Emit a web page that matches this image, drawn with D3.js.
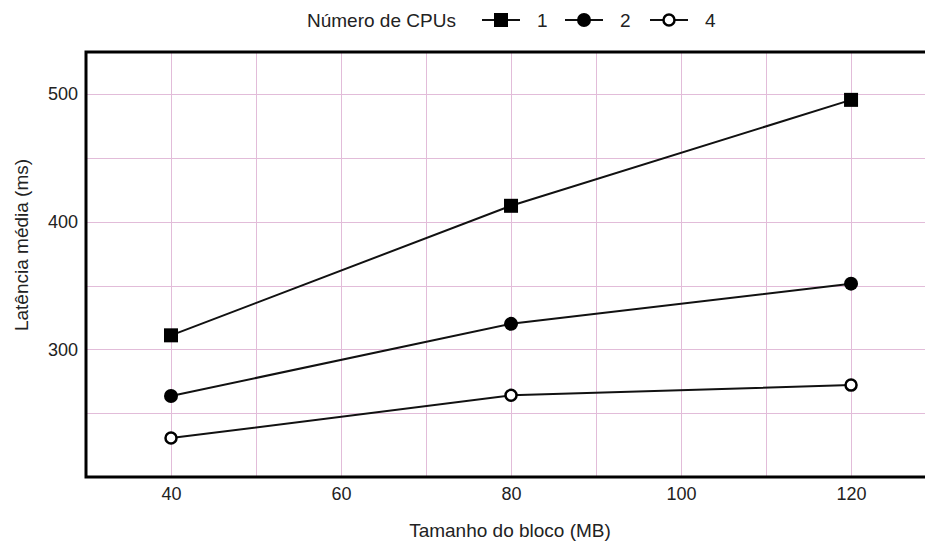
<!DOCTYPE html>
<html>
<head>
<meta charset="utf-8">
<script src="https://cdn.jsdelivr.net/npm/d3@7"></script>
<style>
  body { margin: 0; background: #fff; }
  svg { font-family: "Liberation Sans", Arial, sans-serif; }
</style>
</head>
<body>
<svg id="chart" width="925" height="542"></svg>
<script>
const blockSizes = [40, 80, 120];
const cpus1 = [311, 412.5, 495.5];
const cpus2 = [263.5, 320, 351.5];
const cpus4 = [230.5, 264, 272];
const seriesNames = ["1", "2", "4"];
const xTicks = [40, 60, 80, 100, 120];
const yTicks = [300, 400, 500];

const margin = {top: 52, right: 0, bottom: 65, left: 86};
const width = 925 - margin.left - margin.right;
const height = 542 - margin.top - margin.bottom;
const gridColor = "#e2bcd9";

const svg = d3.select("#chart");
const g = svg.append("g").attr("transform", `translate(${margin.left},${margin.top})`);

const x = d3.scaleLinear().domain([30, 128.7]).range([0, width]);
const y = d3.scaleLinear().domain([200, 533]).range([height, 0]);

// grid every 10 / 50
g.append("g")
  .selectAll("line")
  .data(d3.range(40, 129, 10))
  .join("line")
  .attr("x1", d => Math.round(x(d)) + 0.5).attr("x2", d => Math.round(x(d)) + 0.5)
  .attr("y1", 0).attr("y2", height)
  .attr("stroke", gridColor).attr("stroke-width", 1);

g.append("g")
  .selectAll("line")
  .data(d3.range(250, 533, 50))
  .join("line")
  .attr("x1", 0).attr("x2", width)
  .attr("y1", d => Math.round(y(d)) + 0.5).attr("y2", d => Math.round(y(d)) + 0.5)
  .attr("stroke", gridColor).attr("stroke-width", 1);

// axes
const xAxis = d3.axisBottom(x).tickValues(xTicks).tickSize(0).tickPadding(10);
const yAxis = d3.axisLeft(y).tickValues(yTicks).tickSize(0).tickPadding(8);

g.append("g")
  .attr("transform", `translate(0,${height})`)
  .call(xAxis)
  .call(a => a.select(".domain").remove())
  .selectAll("text").attr("font-size", 18).attr("fill", "#222");

g.append("g")
  .call(yAxis)
  .call(a => a.select(".domain").remove())
  .selectAll("text").attr("font-size", 18).attr("fill", "#222");

// frame: left, top, bottom
g.append("path")
  .attr("d", `M${width},0H0V${height}H${width}`)
  .attr("fill", "none").attr("stroke", "#000").attr("stroke-width", 3);

// lines and markers
const series = [cpus1, cpus2, cpus4];
const line = d3.line().x((d, i) => x(blockSizes[i])).y(d => y(d));

series.forEach((vals, si) => {
  g.append("path")
    .attr("d", line(vals))
    .attr("fill", "none").attr("stroke", "#111").attr("stroke-width", 2);
  drawMarker(g, si, vals.map((v, i) => [x(blockSizes[i]), y(v)]));
});

function drawMarker(sel, si, pts) {
  pts.forEach(([px, py]) => {
    if (si === 0) {
      sel.append("rect").attr("x", px - 7).attr("y", py - 7)
        .attr("width", 14).attr("height", 14).attr("fill", "#000");
    } else if (si === 1) {
      sel.append("circle").attr("cx", px).attr("cy", py).attr("r", 7).attr("fill", "#000");
    } else {
      sel.append("circle").attr("cx", px).attr("cy", py).attr("r", 5.5)
        .attr("fill", "#fff").attr("stroke", "#000").attr("stroke-width", 2.5);
    }
  });
}

// axis titles
svg.append("text")
  .attr("x", 510).attr("y", 537)
  .attr("text-anchor", "middle").attr("font-size", 19).attr("fill", "#222")
  .text("Tamanho do bloco (MB)");

svg.append("text")
  .attr("transform", "translate(28,245) rotate(-90)")
  .attr("text-anchor", "middle").attr("font-size", 19).attr("fill", "#222")
  .text("Latência média (ms)");

// legend
const legend = svg.append("g");
legend.append("text")
  .attr("x", 307).attr("y", 27).attr("font-size", 19).attr("fill", "#222")
  .text("Número de CPUs");

const legendX = [482, 565, 650];
seriesNames.forEach((name, si) => {
  const lx = legendX[si];
  legend.append("line")
    .attr("x1", lx).attr("x2", lx + 38).attr("y1", 20).attr("y2", 20)
    .attr("stroke", "#111").attr("stroke-width", 2);
  drawMarker(legend, si, [[lx + 19, 20]]);
  legend.append("text")
    .attr("x", lx + 55).attr("y", 27).attr("font-size", 19).attr("fill", "#222")
    .text(name);
});
</script>
</body>
</html>
